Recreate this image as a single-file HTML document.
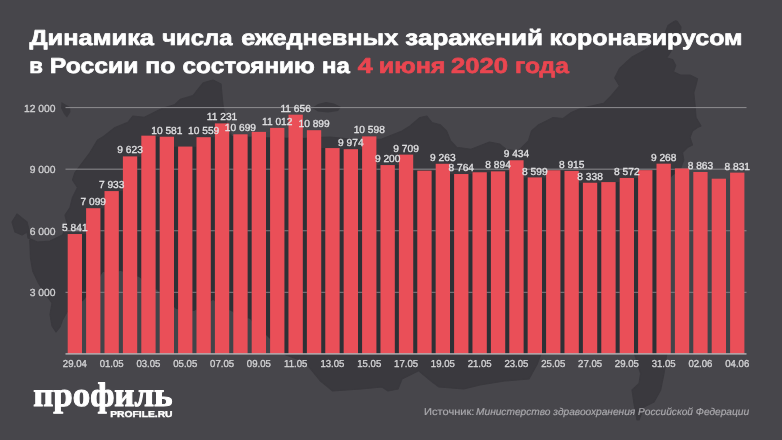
<!DOCTYPE html>
<html><head><meta charset="utf-8"><title>chart</title>
<style>
html,body{margin:0;padding:0;}
body{width:782px;height:440px;overflow:hidden;background:#47464b;font-family:"Liberation Sans",sans-serif;position:relative;}
svg{position:absolute;left:0;top:0;will-change:transform;filter:blur(0.4px);}
</style></head><body>

<svg width="782" height="440" viewBox="0 0 782 440" font-family="Liberation Sans, sans-serif" text-rendering="geometricPrecision">
<path d="M97.5,140.0 L90.0,152.5 L82.5,162.5 L75.0,172.5 L72.5,180.0 L77.5,187.5 L72.5,197.5 L70.0,207.5 L65.0,215.0 L67.5,225.0 L62.5,235.0 L50.0,241.0 L37.5,242.0 L28.0,238.0 L27.0,232.0 L22.0,235.0 L15.0,232.0 L12.0,222.0 L17.0,214.0 L22.0,218.0 L27.0,222.0 L29.0,230.0 L30.0,245.0 L30.5,258.0 L32.7,271.0 L38.4,283.0 L44.0,292.0 L52.0,303.0 L50.0,314.5 L52.0,326.0 L56.0,332.0 L60.0,327.0 L62.5,320.0 L67.0,312.0 L84.0,300.0 L103.0,272.0 L121.0,271.0 L139.0,277.0 L157.0,290.0 L176.0,309.0 L194.0,311.0 L213.0,300.0 L231.0,311.0 L250.0,319.0 L268.0,337.0 L286.0,355.0 L305.0,362.0 L312.0,370.7 L320.5,381.0 L332.7,391.0 L361.0,389.0 L382.0,387.0 L388.0,391.0 L398.0,389.0 L402.0,379.0 L418.7,370.7 L431.0,381.0 L439.0,387.0 L463.7,389.0 L480.0,385.0 L504.6,381.0 L529.0,379.0 L537.0,364.5 L541.0,354.0 L634.0,352.0 L640.6,373.5 L639.0,383.5 L632.0,390.0 L634.0,403.6 L637.0,420.0 L639.0,420.0 L644.0,407.0 L654.0,402.0 L660.7,390.0 L664.0,373.5 L667.0,352.0 L668.0,260.0 L666.0,185.0 L672.0,176.0 L680.0,170.0 L683.8,160.0 L682.5,152.5 L687.5,147.5 L692.5,145.0 L690.0,137.5 L692.5,131.0 L697.5,127.5 L701.0,126.0 L696.0,117.5 L695.0,105.0 L693.8,92.5 L696.0,85.0 L697.5,78.8 L690.0,75.0 L680.4,75.0 L673.4,71.8 L675.7,65.6 L672.6,59.5 L666.5,57.9 L670.3,52.5 L677.3,36.3 L680.4,31.6 L681.0,27.0 L677.3,21.6 L675.8,20.8 L674.0,21.6 L668.0,25.5 L665.0,33.2 L661.8,37.0 L655.0,43.0 L645.0,50.0 L632.0,57.0 L619.5,68.4 L614.7,78.0 L619.5,85.9 L611.5,95.4 L603.6,103.3 L581.0,108.4 L571.3,112.5 L563.0,118.6 L553.0,117.6 L546.8,120.7 L538.6,124.8 L531.5,131.0 L528.4,141.0 L518.0,151.3 L506.0,149.3 L499.8,144.2 L489.5,142.0 L481.3,145.2 L471.0,149.3 L456.8,147.3 L450.7,141.0 L446.6,131.0 L440.4,124.8 L432.0,122.7 L426.8,116.2 L420.0,117.5 L410.0,126.0 L402.0,131.0 L381.8,139.0 L360.0,140.0 L330.0,137.0 L300.0,138.0 L260.0,137.0 L232.0,136.0 L226.0,122.0 L223.0,105.0 L222.0,95.0 L221.0,84.0 L213.0,80.0 L203.2,82.8 L198.1,89.2 L193.0,95.6 L180.2,99.4 L175.1,104.5 L162.3,108.4 L144.4,117.3 L132.9,116.0 L127.8,122.4 L115.0,127.5 L103.5,136.5Z" fill="#3a393e" stroke="#3a393e" stroke-width="1.2" stroke-linejoin="round"/>
<path d="M61.5,102 L64.5,104 L70,107 L70.5,112 L67,117.5 L64,114 L61,108Z" fill="#3a393e"/>
<path d="M312,108 L318,104 L326,102 L334,103.5 L341,107 L338,111 L328,112.5 L318,111.5Z" fill="#3a393e"/>
<rect x="65.5" y="107.10" width="681" height="1" fill="#8e8d91"/>
<rect x="65.5" y="168.67" width="681" height="1" fill="#8e8d91"/>
<rect x="65.5" y="230.25" width="681" height="1" fill="#8e8d91"/>
<rect x="65.5" y="291.82" width="681" height="1" fill="#8e8d91"/>
<clipPath id="gaps"><rect x="82.00" y="234.01" width="4.10" height="119.89"/><rect x="100.40" y="208.19" width="4.10" height="145.71"/><rect x="118.80" y="191.08" width="4.10" height="162.82"/><rect x="137.20" y="156.39" width="4.10" height="197.51"/><rect x="155.60" y="136.72" width="4.10" height="217.18"/><rect x="174.00" y="146.56" width="4.10" height="207.34"/><rect x="192.40" y="146.56" width="4.10" height="207.34"/><rect x="210.80" y="137.18" width="4.10" height="216.72"/><rect x="229.20" y="134.30" width="4.10" height="219.60"/><rect x="247.60" y="134.30" width="4.10" height="219.60"/><rect x="266.00" y="131.88" width="4.10" height="222.02"/><rect x="284.40" y="127.88" width="4.10" height="226.02"/><rect x="302.80" y="130.20" width="4.10" height="223.70"/><rect x="321.20" y="148.08" width="4.10" height="205.82"/><rect x="339.60" y="149.18" width="4.10" height="204.72"/><rect x="358.00" y="149.18" width="4.10" height="204.72"/><rect x="376.40" y="165.07" width="4.10" height="188.83"/><rect x="394.80" y="165.07" width="4.10" height="188.83"/><rect x="413.20" y="170.69" width="4.10" height="183.21"/><rect x="431.60" y="170.69" width="4.10" height="183.21"/><rect x="450.00" y="174.02" width="4.10" height="179.88"/><rect x="468.40" y="174.02" width="4.10" height="179.88"/><rect x="486.80" y="172.27" width="4.10" height="181.63"/><rect x="505.20" y="171.35" width="4.10" height="182.55"/><rect x="523.60" y="177.41" width="4.10" height="176.49"/><rect x="542.00" y="177.41" width="4.10" height="176.49"/><rect x="560.40" y="170.92" width="4.10" height="182.98"/><rect x="578.80" y="182.76" width="4.10" height="171.14"/><rect x="597.20" y="182.76" width="4.10" height="171.14"/><rect x="615.60" y="182.09" width="4.10" height="171.81"/><rect x="634.00" y="177.96" width="4.10" height="175.94"/><rect x="652.40" y="170.16" width="4.10" height="183.74"/><rect x="670.80" y="168.46" width="4.10" height="185.44"/><rect x="689.20" y="171.99" width="4.10" height="181.91"/><rect x="707.60" y="178.70" width="4.10" height="175.20"/><rect x="726.00" y="178.70" width="4.10" height="175.20"/></clipPath>
<g clip-path="url(#gaps)"><rect x="60" y="100" width="700" height="260" fill="#424449"/><path d="M97.5,140.0 L90.0,152.5 L82.5,162.5 L75.0,172.5 L72.5,180.0 L77.5,187.5 L72.5,197.5 L70.0,207.5 L65.0,215.0 L67.5,225.0 L62.5,235.0 L50.0,241.0 L37.5,242.0 L28.0,238.0 L27.0,232.0 L22.0,235.0 L15.0,232.0 L12.0,222.0 L17.0,214.0 L22.0,218.0 L27.0,222.0 L29.0,230.0 L30.0,245.0 L30.5,258.0 L32.7,271.0 L38.4,283.0 L44.0,292.0 L52.0,303.0 L50.0,314.5 L52.0,326.0 L56.0,332.0 L60.0,327.0 L62.5,320.0 L67.0,312.0 L84.0,300.0 L103.0,272.0 L121.0,271.0 L139.0,277.0 L157.0,290.0 L176.0,309.0 L194.0,311.0 L213.0,300.0 L231.0,311.0 L250.0,319.0 L268.0,337.0 L286.0,355.0 L305.0,362.0 L312.0,370.7 L320.5,381.0 L332.7,391.0 L361.0,389.0 L382.0,387.0 L388.0,391.0 L398.0,389.0 L402.0,379.0 L418.7,370.7 L431.0,381.0 L439.0,387.0 L463.7,389.0 L480.0,385.0 L504.6,381.0 L529.0,379.0 L537.0,364.5 L541.0,354.0 L634.0,352.0 L640.6,373.5 L639.0,383.5 L632.0,390.0 L634.0,403.6 L637.0,420.0 L639.0,420.0 L644.0,407.0 L654.0,402.0 L660.7,390.0 L664.0,373.5 L667.0,352.0 L668.0,260.0 L666.0,185.0 L672.0,176.0 L680.0,170.0 L683.8,160.0 L682.5,152.5 L687.5,147.5 L692.5,145.0 L690.0,137.5 L692.5,131.0 L697.5,127.5 L701.0,126.0 L696.0,117.5 L695.0,105.0 L693.8,92.5 L696.0,85.0 L697.5,78.8 L690.0,75.0 L680.4,75.0 L673.4,71.8 L675.7,65.6 L672.6,59.5 L666.5,57.9 L670.3,52.5 L677.3,36.3 L680.4,31.6 L681.0,27.0 L677.3,21.6 L675.8,20.8 L674.0,21.6 L668.0,25.5 L665.0,33.2 L661.8,37.0 L655.0,43.0 L645.0,50.0 L632.0,57.0 L619.5,68.4 L614.7,78.0 L619.5,85.9 L611.5,95.4 L603.6,103.3 L581.0,108.4 L571.3,112.5 L563.0,118.6 L553.0,117.6 L546.8,120.7 L538.6,124.8 L531.5,131.0 L528.4,141.0 L518.0,151.3 L506.0,149.3 L499.8,144.2 L489.5,142.0 L481.3,145.2 L471.0,149.3 L456.8,147.3 L450.7,141.0 L446.6,131.0 L440.4,124.8 L432.0,122.7 L426.8,116.2 L420.0,117.5 L410.0,126.0 L402.0,131.0 L381.8,139.0 L360.0,140.0 L330.0,137.0 L300.0,138.0 L260.0,137.0 L232.0,136.0 L226.0,122.0 L223.0,105.0 L222.0,95.0 L221.0,84.0 L213.0,80.0 L203.2,82.8 L198.1,89.2 L193.0,95.6 L180.2,99.4 L175.1,104.5 L162.3,108.4 L144.4,117.3 L132.9,116.0 L127.8,122.4 L115.0,127.5 L103.5,136.5Z" fill="#2e3035"/>
<rect x="65.5" y="168.67" width="681" height="1" fill="#7d7e83"/>
<rect x="65.5" y="230.25" width="681" height="1" fill="#7d7e83"/>
<rect x="65.5" y="291.82" width="681" height="1" fill="#7d7e83"/>
</g>
<rect x="67.70" y="234.01" width="14.30" height="119.89" fill="#ea4f58"/>
<rect x="86.10" y="208.19" width="14.30" height="145.71" fill="#ea4f58"/>
<rect x="104.50" y="191.08" width="14.30" height="162.82" fill="#ea4f58"/>
<rect x="122.90" y="156.39" width="14.30" height="197.51" fill="#ea4f58"/>
<rect x="141.30" y="135.66" width="14.30" height="218.24" fill="#ea4f58"/>
<rect x="159.70" y="136.72" width="14.30" height="217.18" fill="#ea4f58"/>
<rect x="178.10" y="146.56" width="14.30" height="207.34" fill="#ea4f58"/>
<rect x="196.50" y="137.18" width="14.30" height="216.72" fill="#ea4f58"/>
<rect x="214.90" y="123.38" width="14.30" height="230.52" fill="#ea4f58"/>
<rect x="233.30" y="134.30" width="14.30" height="219.60" fill="#ea4f58"/>
<rect x="251.70" y="131.88" width="14.30" height="222.02" fill="#ea4f58"/>
<rect x="270.10" y="127.88" width="14.30" height="226.02" fill="#ea4f58"/>
<rect x="288.50" y="114.66" width="14.30" height="239.24" fill="#ea4f58"/>
<rect x="306.90" y="130.20" width="14.30" height="223.70" fill="#ea4f58"/>
<rect x="325.30" y="148.08" width="14.30" height="205.82" fill="#ea4f58"/>
<rect x="343.70" y="149.18" width="14.30" height="204.72" fill="#ea4f58"/>
<rect x="362.10" y="136.38" width="14.30" height="217.52" fill="#ea4f58"/>
<rect x="380.50" y="165.07" width="14.30" height="188.83" fill="#ea4f58"/>
<rect x="398.90" y="154.62" width="14.30" height="199.28" fill="#ea4f58"/>
<rect x="417.30" y="170.69" width="14.30" height="183.21" fill="#ea4f58"/>
<rect x="435.70" y="163.78" width="14.30" height="190.12" fill="#ea4f58"/>
<rect x="454.10" y="174.02" width="14.30" height="179.88" fill="#ea4f58"/>
<rect x="472.50" y="172.27" width="14.30" height="181.63" fill="#ea4f58"/>
<rect x="490.90" y="171.35" width="14.30" height="182.55" fill="#ea4f58"/>
<rect x="509.30" y="160.27" width="14.30" height="193.63" fill="#ea4f58"/>
<rect x="527.70" y="177.41" width="14.30" height="176.49" fill="#ea4f58"/>
<rect x="546.10" y="170.28" width="14.30" height="183.62" fill="#ea4f58"/>
<rect x="564.50" y="170.92" width="14.30" height="182.98" fill="#ea4f58"/>
<rect x="582.90" y="182.76" width="14.30" height="171.14" fill="#ea4f58"/>
<rect x="601.30" y="182.09" width="14.30" height="171.81" fill="#ea4f58"/>
<rect x="619.70" y="177.96" width="14.30" height="175.94" fill="#ea4f58"/>
<rect x="638.10" y="170.16" width="14.30" height="183.74" fill="#ea4f58"/>
<rect x="656.50" y="163.67" width="14.30" height="190.23" fill="#ea4f58"/>
<rect x="674.90" y="168.46" width="14.30" height="185.44" fill="#ea4f58"/>
<rect x="693.30" y="171.99" width="14.30" height="181.91" fill="#ea4f58"/>
<rect x="711.70" y="178.70" width="14.30" height="175.20" fill="#ea4f58"/>
<rect x="730.10" y="172.64" width="14.30" height="181.26" fill="#ea4f58"/>
<rect x="65.5" y="353.20" width="681" height="1.4" fill="#b4b3b7"/>
<text transform="translate(55.5,111.50) scale(1.0,1)" font-size="10.3" fill="#d2d2d4" stroke="#d2d2d4" stroke-width="0.3" text-anchor="end">12 000</text>
<text transform="translate(55.5,173.07) scale(1.0,1)" font-size="10.3" fill="#d2d2d4" stroke="#d2d2d4" stroke-width="0.3" text-anchor="end">9 000</text>
<text transform="translate(55.5,234.65) scale(1.0,1)" font-size="10.3" fill="#d2d2d4" stroke="#d2d2d4" stroke-width="0.3" text-anchor="end">6 000</text>
<text transform="translate(55.5,296.22) scale(1.0,1)" font-size="10.3" fill="#d2d2d4" stroke="#d2d2d4" stroke-width="0.3" text-anchor="end">3 000</text>
<text transform="translate(74.85,367.3) scale(0.95,1)" font-size="10.1" fill="#d2d2d4" stroke="#d2d2d4" stroke-width="0.35" text-anchor="middle">29.04</text>
<text transform="translate(111.65,367.3) scale(0.95,1)" font-size="10.1" fill="#d2d2d4" stroke="#d2d2d4" stroke-width="0.35" text-anchor="middle">01.05</text>
<text transform="translate(148.45,367.3) scale(0.95,1)" font-size="10.1" fill="#d2d2d4" stroke="#d2d2d4" stroke-width="0.35" text-anchor="middle">03.05</text>
<text transform="translate(185.25,367.3) scale(0.95,1)" font-size="10.1" fill="#d2d2d4" stroke="#d2d2d4" stroke-width="0.35" text-anchor="middle">05.05</text>
<text transform="translate(222.05,367.3) scale(0.95,1)" font-size="10.1" fill="#d2d2d4" stroke="#d2d2d4" stroke-width="0.35" text-anchor="middle">07.05</text>
<text transform="translate(258.85,367.3) scale(0.95,1)" font-size="10.1" fill="#d2d2d4" stroke="#d2d2d4" stroke-width="0.35" text-anchor="middle">09.05</text>
<text transform="translate(295.65,367.3) scale(0.95,1)" font-size="10.1" fill="#d2d2d4" stroke="#d2d2d4" stroke-width="0.35" text-anchor="middle">11.05</text>
<text transform="translate(332.45,367.3) scale(0.95,1)" font-size="10.1" fill="#d2d2d4" stroke="#d2d2d4" stroke-width="0.35" text-anchor="middle">13.05</text>
<text transform="translate(369.25,367.3) scale(0.95,1)" font-size="10.1" fill="#d2d2d4" stroke="#d2d2d4" stroke-width="0.35" text-anchor="middle">15.05</text>
<text transform="translate(406.05,367.3) scale(0.95,1)" font-size="10.1" fill="#d2d2d4" stroke="#d2d2d4" stroke-width="0.35" text-anchor="middle">17.05</text>
<text transform="translate(442.85,367.3) scale(0.95,1)" font-size="10.1" fill="#d2d2d4" stroke="#d2d2d4" stroke-width="0.35" text-anchor="middle">19.05</text>
<text transform="translate(479.65,367.3) scale(0.95,1)" font-size="10.1" fill="#d2d2d4" stroke="#d2d2d4" stroke-width="0.35" text-anchor="middle">21.05</text>
<text transform="translate(516.45,367.3) scale(0.95,1)" font-size="10.1" fill="#d2d2d4" stroke="#d2d2d4" stroke-width="0.35" text-anchor="middle">23.05</text>
<text transform="translate(553.25,367.3) scale(0.95,1)" font-size="10.1" fill="#d2d2d4" stroke="#d2d2d4" stroke-width="0.35" text-anchor="middle">25.05</text>
<text transform="translate(590.05,367.3) scale(0.95,1)" font-size="10.1" fill="#d2d2d4" stroke="#d2d2d4" stroke-width="0.35" text-anchor="middle">27.05</text>
<text transform="translate(626.85,367.3) scale(0.95,1)" font-size="10.1" fill="#d2d2d4" stroke="#d2d2d4" stroke-width="0.35" text-anchor="middle">29.05</text>
<text transform="translate(663.65,367.3) scale(0.95,1)" font-size="10.1" fill="#d2d2d4" stroke="#d2d2d4" stroke-width="0.35" text-anchor="middle">31.05</text>
<text transform="translate(700.45,367.3) scale(0.95,1)" font-size="10.1" fill="#d2d2d4" stroke="#d2d2d4" stroke-width="0.35" text-anchor="middle">02.06</text>
<text transform="translate(737.25,367.3) scale(0.95,1)" font-size="10.1" fill="#d2d2d4" stroke="#d2d2d4" stroke-width="0.35" text-anchor="middle">04.06</text>
<text transform="translate(74.85,231.11) scale(1.0,1)" font-size="10.2" fill="#e2e2e4" stroke="#e2e2e4" stroke-width="0.3" text-anchor="middle">5 841</text>
<text transform="translate(93.25,205.29) scale(1.0,1)" font-size="10.2" fill="#e2e2e4" stroke="#e2e2e4" stroke-width="0.3" text-anchor="middle">7 099</text>
<text transform="translate(111.65,188.18) scale(1.0,1)" font-size="10.2" fill="#e2e2e4" stroke="#e2e2e4" stroke-width="0.3" text-anchor="middle">7 933</text>
<text transform="translate(130.05,153.49) scale(1.0,1)" font-size="10.2" fill="#e2e2e4" stroke="#e2e2e4" stroke-width="0.3" text-anchor="middle">9 623</text>
<text transform="translate(166.85,133.82) scale(1.0,1)" font-size="10.2" fill="#e2e2e4" stroke="#e2e2e4" stroke-width="0.3" text-anchor="middle">10 581</text>
<text transform="translate(203.65,134.28) scale(1.0,1)" font-size="10.2" fill="#e2e2e4" stroke="#e2e2e4" stroke-width="0.3" text-anchor="middle">10 559</text>
<text transform="translate(222.05,120.48) scale(1.0,1)" font-size="10.2" fill="#e2e2e4" stroke="#e2e2e4" stroke-width="0.3" text-anchor="middle">11 231</text>
<text transform="translate(240.45,131.40) scale(1.0,1)" font-size="10.2" fill="#e2e2e4" stroke="#e2e2e4" stroke-width="0.3" text-anchor="middle">10 699</text>
<text transform="translate(277.25,124.98) scale(1.0,1)" font-size="10.2" fill="#e2e2e4" stroke="#e2e2e4" stroke-width="0.3" text-anchor="middle">11 012</text>
<text transform="translate(295.65,111.76) scale(1.0,1)" font-size="10.2" fill="#e2e2e4" stroke="#e2e2e4" stroke-width="0.3" text-anchor="middle">11 656</text>
<text transform="translate(314.05,127.30) scale(1.0,1)" font-size="10.2" fill="#e2e2e4" stroke="#e2e2e4" stroke-width="0.3" text-anchor="middle">10 899</text>
<text transform="translate(350.85,146.28) scale(1.0,1)" font-size="10.2" fill="#e2e2e4" stroke="#e2e2e4" stroke-width="0.3" text-anchor="middle">9 974</text>
<text transform="translate(369.25,133.48) scale(1.0,1)" font-size="10.2" fill="#e2e2e4" stroke="#e2e2e4" stroke-width="0.3" text-anchor="middle">10 598</text>
<text transform="translate(387.65,162.17) scale(1.0,1)" font-size="10.2" fill="#e2e2e4" stroke="#e2e2e4" stroke-width="0.3" text-anchor="middle">9 200</text>
<text transform="translate(406.05,151.72) scale(1.0,1)" font-size="10.2" fill="#e2e2e4" stroke="#e2e2e4" stroke-width="0.3" text-anchor="middle">9 709</text>
<text transform="translate(442.85,160.88) scale(1.0,1)" font-size="10.2" fill="#e2e2e4" stroke="#e2e2e4" stroke-width="0.3" text-anchor="middle">9 263</text>
<text transform="translate(461.25,171.12) scale(1.0,1)" font-size="10.2" fill="#e2e2e4" stroke="#e2e2e4" stroke-width="0.3" text-anchor="middle">8 764</text>
<text transform="translate(498.05,168.45) scale(1.0,1)" font-size="10.2" fill="#e2e2e4" stroke="#e2e2e4" stroke-width="0.3" text-anchor="middle">8 894</text>
<text transform="translate(516.45,157.37) scale(1.0,1)" font-size="10.2" fill="#e2e2e4" stroke="#e2e2e4" stroke-width="0.3" text-anchor="middle">9 434</text>
<text transform="translate(534.85,174.51) scale(1.0,1)" font-size="10.2" fill="#e2e2e4" stroke="#e2e2e4" stroke-width="0.3" text-anchor="middle">8 599</text>
<text transform="translate(571.65,168.02) scale(1.0,1)" font-size="10.2" fill="#e2e2e4" stroke="#e2e2e4" stroke-width="0.3" text-anchor="middle">8 915</text>
<text transform="translate(590.05,179.86) scale(1.0,1)" font-size="10.2" fill="#e2e2e4" stroke="#e2e2e4" stroke-width="0.3" text-anchor="middle">8 338</text>
<text transform="translate(626.85,175.06) scale(1.0,1)" font-size="10.2" fill="#e2e2e4" stroke="#e2e2e4" stroke-width="0.3" text-anchor="middle">8 572</text>
<text transform="translate(663.65,160.77) scale(1.0,1)" font-size="10.2" fill="#e2e2e4" stroke="#e2e2e4" stroke-width="0.3" text-anchor="middle">9 268</text>
<text transform="translate(700.45,169.09) scale(1.0,1)" font-size="10.2" fill="#e2e2e4" stroke="#e2e2e4" stroke-width="0.3" text-anchor="middle">8 863</text>
<text transform="translate(737.25,169.74) scale(1.0,1)" font-size="10.2" fill="#e2e2e4" stroke="#e2e2e4" stroke-width="0.3" text-anchor="middle">8 831</text>
<text transform="translate(29.52,44.80) scale(1.1766,1)" font-size="21.6" font-weight="bold" fill="#fff" stroke="#fff" stroke-width="0.7" stroke-linejoin="round">Динамика</text>
<text transform="translate(162.22,44.80) scale(1.1042,1)" font-size="21.6" font-weight="bold" fill="#fff" stroke="#fff" stroke-width="0.7" stroke-linejoin="round">числа</text>
<text transform="translate(241.19,44.80) scale(1.1691,1)" font-size="21.6" font-weight="bold" fill="#fff" stroke="#fff" stroke-width="0.7" stroke-linejoin="round">ежедневных</text>
<text transform="translate(405.37,44.80) scale(1.2036,1)" font-size="21.6" font-weight="bold" fill="#fff" stroke="#fff" stroke-width="0.7" stroke-linejoin="round">заражений</text>
<text transform="translate(549.47,44.80) scale(1.1566,1)" font-size="21.6" font-weight="bold" fill="#fff" stroke="#fff" stroke-width="0.7" stroke-linejoin="round">коронавирусом</text>
<text transform="translate(29.22,73.40) scale(1.0281,1)" font-size="21.6" font-weight="bold" fill="#fff" stroke="#fff" stroke-width="0.7" stroke-linejoin="round">в</text>
<text transform="translate(49.78,73.40) scale(1.1455,1)" font-size="21.6" font-weight="bold" fill="#fff" stroke="#fff" stroke-width="0.7" stroke-linejoin="round">России</text>
<text transform="translate(145.18,73.40) scale(1.1475,1)" font-size="21.6" font-weight="bold" fill="#fff" stroke="#fff" stroke-width="0.7" stroke-linejoin="round">по</text>
<text transform="translate(182.61,73.40) scale(1.1249,1)" font-size="21.6" font-weight="bold" fill="#fff" stroke="#fff" stroke-width="0.7" stroke-linejoin="round">состоянию</text>
<text transform="translate(321.92,73.40) scale(1.1100,1)" font-size="21.6" font-weight="bold" fill="#fff" stroke="#fff" stroke-width="0.7" stroke-linejoin="round">на</text>
<text transform="translate(357.67,73.40) scale(1.2377,1)" font-size="21.6" font-weight="bold" fill="#ea4650" stroke="#ea4650" stroke-width="0.7" stroke-linejoin="round">4</text>
<text transform="translate(378.66,73.40) scale(1.1657,1)" font-size="21.6" font-weight="bold" fill="#ea4650" stroke="#ea4650" stroke-width="0.7" stroke-linejoin="round">июня</text>
<text transform="translate(451.03,73.40) scale(1.1875,1)" font-size="21.6" font-weight="bold" fill="#ea4650" stroke="#ea4650" stroke-width="0.7" stroke-linejoin="round">2020</text>
<text transform="translate(514.99,73.40) scale(1.1392,1)" font-size="21.6" font-weight="bold" fill="#ea4650" stroke="#ea4650" stroke-width="0.7" stroke-linejoin="round">года</text>
<text transform="translate(424.03,414.7) scale(1.1072,1)" font-size="10" fill="#a9a8ac" stroke="#a9a8ac" stroke-width="0.2">Источник:</text>
<text transform="translate(476.02,414.7) scale(1.0158,1)" font-size="10" font-style="italic" fill="#a9a8ac" stroke="#a9a8ac" stroke-width="0.2">Министерство здравоохранения Российской Федерации</text>
<text transform="translate(33.22,405.6) scale(1.0259,1)" font-family="Liberation Serif, serif" font-size="34" font-weight="bold" fill="#fff" stroke="#fff" stroke-width="1" stroke-linejoin="round">профиль</text>
<text transform="translate(110.19,417.3) scale(1.1975,1)" font-size="8.6" font-weight="bold" fill="#fff" stroke="#fff" stroke-width="0.4">PROFILE.RU</text>
</svg>
</body></html>
